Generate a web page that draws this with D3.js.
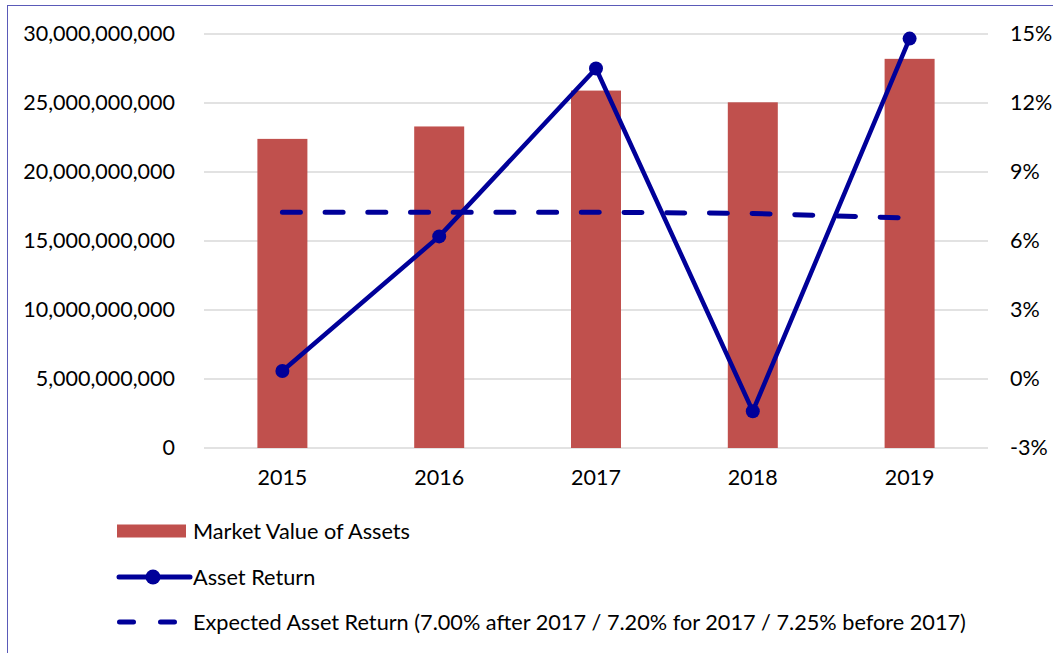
<!DOCTYPE html>
<html>
<head>
<meta charset="utf-8">
<script src="https://cdn.jsdelivr.net/npm/d3@7"></script>
<style>
  body { margin: 0; background: #fff; }
  text { font-family: Lato, "Open Sans", sans-serif; fill: #000; }
</style>
</head>
<body>
<div class="chart"></div>
<script>
// data
var years = ["2015", "2016", "2017", "2018", "2019"];
var marketValue = [22.4e9, 23.3e9, 25.9e9, 25.05e9, 28.2e9];
var assetReturn = [0.35, 6.2, 13.5, -1.4, 14.8];
var expectedReturn = [7.25, 7.25, 7.25, 7.20, 7.00];
var leftTicks = [0, 5e9, 10e9, 15e9, 20e9, 25e9, 30e9];
var rightTicks = [-3, 0, 3, 6, 9, 12, 15];
var legendLabels = ["Market Value of Assets", "Asset Return",
  "Expected Asset Return (7.00% after 2017 / 7.20% for 2017 / 7.25% before 2017)"];

var W = 1053, H = 653;
var barColor = "#c0504d", lineColor = "#000099", gridColor = "#d9d9d9";

var svg = d3.select("div.chart").append("svg")
  .attr("width", W)
  .attr("height", H);

// outer frame (only top and left visible)
svg.append("rect")
  .attr("x", 7.5).attr("y", 5.5)
  .attr("width", W + 20).attr("height", H + 20)
  .attr("fill", "none")
  .attr("stroke", "#5a5ab8")
  .attr("stroke-width", 1);

var plotL = 204, plotR = 988, plotT = 34, plotB = 448;

var x = d3.scaleBand().domain(years).range([plotL, plotR]).padding(0);
var yL = d3.scaleLinear().domain([0, 30e9]).range([plotB, plotT]);
var yR = d3.scaleLinear().domain([-3, 15]).range([plotB, plotT]);

// gridlines
svg.append("g").selectAll("line")
  .data(leftTicks)
  .enter().append("line")
  .attr("x1", plotL).attr("x2", plotR)
  .attr("y1", function(d) { return yL(d); })
  .attr("y2", function(d) { return yL(d); })
  .attr("stroke", gridColor)
  .attr("stroke-width", 1.5);

// left axis
var leftAxis = svg.append("g")
  .attr("transform", "translate(" + (plotL - 29) + ",0)")
  .call(d3.axisLeft(yL).tickValues(leftTicks).tickSize(0).tickPadding(0)
    .tickFormat(d3.format(",")));
leftAxis.select(".domain").remove();
leftAxis.selectAll("text").attr("font-size", "21.5px").style("font-family", "Lato");

// right axis
var rightAxis = svg.append("g")
  .attr("transform", "translate(" + (plotR + 22) + ",0)")
  .call(d3.axisRight(yR).tickValues(rightTicks).tickSize(0).tickPadding(0)
    .tickFormat(function(d) { return d + "%"; }));
rightAxis.select(".domain").remove();
rightAxis.selectAll("text").attr("font-size", "21.5px").style("font-family", "Lato");

// bottom axis
var bottomAxis = svg.append("g")
  .attr("transform", "translate(0," + (plotB + 22) + ")")
  .call(d3.axisBottom(x).tickSize(0).tickPadding(0));
bottomAxis.select(".domain").remove();
bottomAxis.selectAll("text").attr("font-size", "21.5px").style("font-family", "Lato");

// bars
var barW = 50;
svg.append("g").selectAll("rect")
  .data(marketValue)
  .enter().append("rect")
  .attr("x", function(d, i) { return x(years[i]) + x.bandwidth() / 2 - barW / 2; })
  .attr("y", function(d) { return yL(d); })
  .attr("width", barW)
  .attr("height", function(d) { return plotB - yL(d); })
  .attr("fill", barColor);

function cx(i) { return x(years[i]) + x.bandwidth() / 2; }

// expected return dashed line
var expLine = d3.line()
  .x(function(d, i) { return cx(i); })
  .y(function(d) { return yR(d); });
svg.append("path")
  .datum(expectedReturn)
  .attr("d", expLine)
  .attr("fill", "none")
  .attr("stroke", lineColor)
  .attr("stroke-width", 5)
  .attr("stroke-linecap", "round")
  .attr("stroke-dasharray", "18,24.7");

// asset return line
var retLine = d3.line()
  .x(function(d, i) { return cx(i); })
  .y(function(d) { return yR(d); });
svg.append("path")
  .datum(assetReturn)
  .attr("d", retLine)
  .attr("fill", "none")
  .attr("stroke", lineColor)
  .attr("stroke-width", 4.5)
  .attr("stroke-linejoin", "round");

svg.append("g").selectAll("circle")
  .data(assetReturn)
  .enter().append("circle")
  .attr("cx", function(d, i) { return cx(i); })
  .attr("cy", function(d) { return yR(d); })
  .attr("r", 7)
  .attr("fill", lineColor);

// legend
var legX = 117, textX = 193;
var legY = [531, 577, 622];
var leg = svg.append("g");
leg.append("rect")
  .attr("x", legX).attr("y", legY[0] - 6.5)
  .attr("width", 69).attr("height", 13)
  .attr("fill", barColor);
leg.append("line")
  .attr("x1", legX + 2).attr("x2", legX + 73)
  .attr("y1", legY[1]).attr("y2", legY[1])
  .attr("stroke", lineColor).attr("stroke-width", 5)
  .attr("stroke-linecap", "round");
leg.append("circle")
  .attr("cx", legX + 36).attr("cy", legY[1]).attr("r", 7.5)
  .attr("fill", lineColor);
leg.append("line")
  .attr("x1", legX + 2.5).attr("x2", legX + 62)
  .attr("y1", legY[2]).attr("y2", legY[2])
  .attr("stroke", lineColor).attr("stroke-width", 5)
  .attr("stroke-linecap", "round")
  .attr("stroke-dasharray", "14,27");

leg.selectAll("text")
  .data(legendLabels)
  .enter().append("text")
  .attr("x", textX)
  .attr("y", function(d, i) { return legY[i]; })
  .attr("dy", "0.35em")
  .attr("font-size", "21.7px")
  .text(function(d) { return d; });
</script>
</body>
</html>
